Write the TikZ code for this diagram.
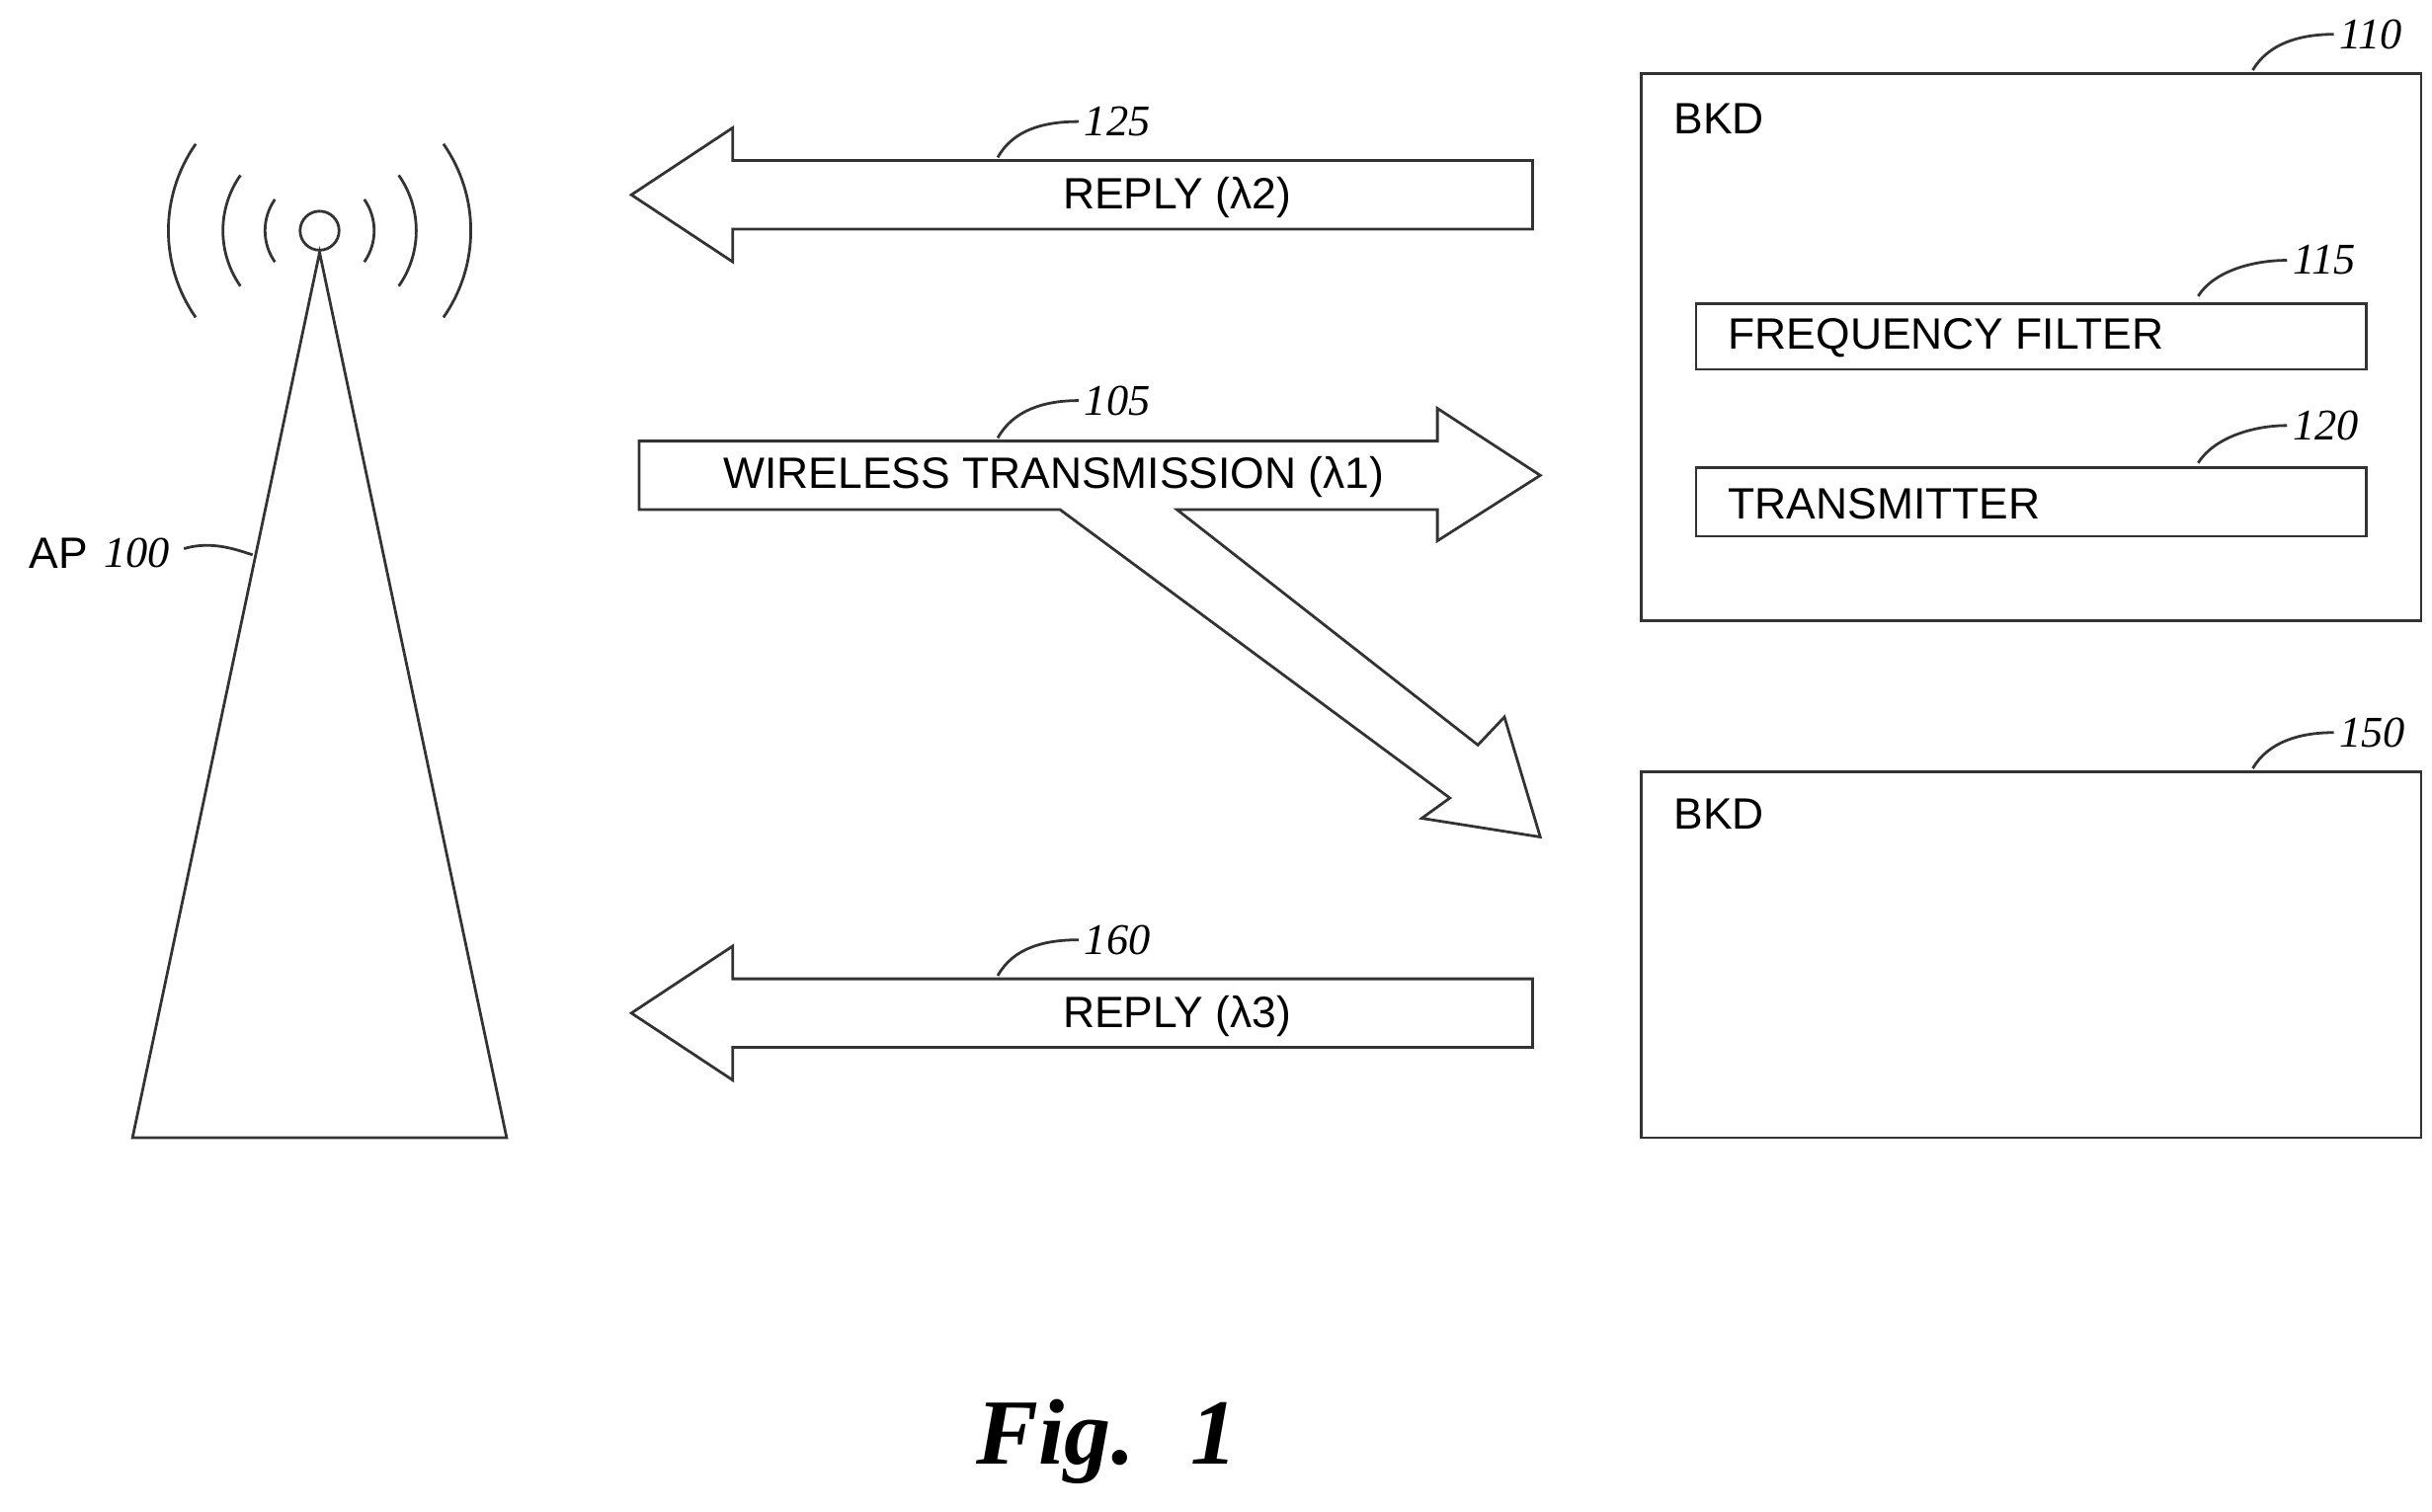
\documentclass[tikz,border=0pt]{standalone}
\usepackage{fontspec}
\setmainfont{Liberation Sans}
\newfontfamily\numf{Liberation Serif}
\begin{document}
\begin{tikzpicture}[x=0.01cm,y=-0.01cm,
  ln/.style={line width=0.5pt,black!80},
  txt/.style={font=\fontsize{8}{9}\selectfont,inner sep=0},
  num/.style={font=\numf\itshape\fontsize{8}{9}\selectfont,inner sep=0,anchor=west},
  lead/.style={ln}]
\useasboundingbox (0,0) rectangle (1560,970);
% tower
\draw[ln] (205,162) coordinate (apex) -- (85,730) -- (325,730) -- cycle;
\node[circle,draw,ln,minimum size=0.25cm,inner sep=0] (ant) at (205,148) {};
\foreach \r in {35,62,97}{
  \draw[ln] (205,148) ++(145:\r) arc[start angle=145,end angle=215,radius=\r];
  \draw[ln] (205,148) ++(35:\r) arc[start angle=35,end angle=-35,radius=\r];
}
\node[txt,anchor=east] (ap) at (57,355) {AP};
\node[num] (n100) at (66,355) {100};
\draw[lead] (118,352) .. controls (135,347) and (150,352) .. (162,356);
% reply arrows
\foreach \y/\lab/\n/\t in {125/REPLY (λ2)/125/a,650/REPLY (λ3)/160/b}{
  \draw[ln] (983,\y-22) -- (470,\y-22) -- (470,\y-43) -- (405,\y) -- (470,\y+43) -- (470,\y+22) -- (983,\y+22) -- cycle;
  \node[txt] (r\t) at (755,\y+2) {\lab};
  \node[num] (l\t) at (695,\y-47) {\n};
  \draw[lead] (640,\y-24) .. controls (650,\y-42) and (670,\y-47) .. (692,\y-47);
}
% wireless transmission arrow
\draw[ln] (410,283) -- (922,283) -- (922,262) -- (988,305) -- (922,347) -- (922,327) -- (755,327)
  -- (948,478) -- (965,460) -- (988,537) -- (912,525) -- (930,512) -- (680,327) -- (410,327) -- cycle;
\node[txt] (wt) at (676,306) {WIRELESS TRANSMISSION (λ1)};
\node[num] (l105) at (695,257) {105};
\draw[lead] (640,281) .. controls (650,263) and (670,257) .. (692,257);
% boxes
\draw[ln] (1053,47) rectangle (1553,398);
\node[txt,anchor=west] (bkd1) at (1073,76) {BKD};
\node[num] (l110) at (1500,22) {110};
\draw[lead] (1445,45) .. controls (1455,28) and (1475,22) .. (1497,22);
\draw[ln] (1088,195) rectangle (1518,237);
\node[txt,anchor=west] (ff) at (1108,217) {FREQUENCY FILTER};
\node[num] (l115) at (1470,167) {115};
\draw[lead] (1410,190) .. controls (1420,174) and (1445,167) .. (1467,167);
\draw[ln] (1088,300) rectangle (1518,344);
\node[txt,anchor=west] (tx) at (1108,323) {TRANSMITTER};
\node[num] (l120) at (1470,273) {120};
\draw[lead] (1410,297) .. controls (1420,281) and (1445,273) .. (1467,273);
\draw[ln] (1053,495) rectangle (1553,730);
\node[txt,anchor=west] (bkd2) at (1073,522) {BKD};
\node[num] (l150) at (1500,470) {150};
\draw[lead] (1445,493) .. controls (1455,476) and (1475,470) .. (1497,470);
% fig
\node[font=\numf\bfseries\itshape\fontsize{17}{20}\selectfont,inner sep=0] (fig) at (710,925) {Fig.\hspace{0.6em}1};
\end{tikzpicture}
\end{document}
